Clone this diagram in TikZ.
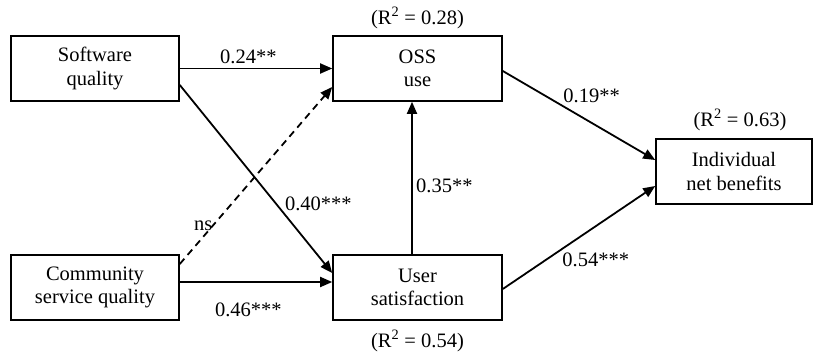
\documentclass[tikz,border=0pt]{standalone}
\usepackage{fontspec}
\setmainfont{Liberation Serif}
\usetikzlibrary{arrows.meta}
\tikzset{
    >={Triangle[length=12pt, width=10pt]},
    construct/.style={draw, line width=1.6pt, minimum height=65pt, align=center, inner sep=2pt,
        font=\fontsize{20.5}{23.5}\selectfont},
    effect/.style={->, line width=1.8pt},
    nseffect/.style={effect, dash pattern=on 7pt off 5pt},
    coef/.style={font=\fontsize{20.5}{23.5}\selectfont},
}

\begin{document}
\begin{tikzpicture}[x=1pt, y=-1pt]
    \useasboundingbox (0,0) rectangle (814,356);
    \node[construct, minimum width=168pt] (sq) at (95,68.5) {Software\\quality};
    \node[construct, minimum width=168pt] (csq) at (95,287.5) {Community\\service quality};
    \node[construct, minimum width=169pt] (oss) at (417.5,68.5) {OSS\\use};
    \node[construct, minimum width=169pt] (us) at (417.5,287.5) {User\\satisfaction};
    \node[construct, minimum width=156pt] (inb) at (734,171.5) {Individual\\net benefits};
    \node[coef] (ossr) at (oss.north) [above=3pt] {(R\textsuperscript{2} = 0.28)};
    \node[coef] (usr) at (us.south) [below=6pt] {(R\textsuperscript{2} = 0.54)};
    \node[coef] (inbr) at (inb.north) [above=4pt, xshift=6pt] {(R\textsuperscript{2} = 0.63)};
    \draw[effect] (sq) -- (oss) node[coef, pos=0.45, above] {0.24**};
    \draw[effect] ([yshift=-16.5pt]sq.east) -- ([yshift=14.5pt]us.west)
        node[coef, pos=0.63, right=5pt] {0.40***};
    \draw[nseffect] ([yshift=23.5pt]csq.east) -- ([yshift=-18.5pt]oss.west)
        node[coef, pos=0.215, left=-4pt] {ns};
    \draw[effect] ([yshift=5.5pt]csq.east) -- ([yshift=5.5pt]us.west)
        node[coef, pos=0.45, below=17pt] {0.46***};
    \draw[effect] ([xshift=-5.5pt]us.north) -- ([xshift=-5.5pt]oss.south)
        node[coef, pos=0.45, right] {0.35**};
    \draw[effect] ([yshift=-2.5pt]oss.east) -- ([yshift=11.5pt]inb.west)
        node[coef, pos=0.37, above right, yshift=-3pt] {0.19**};
    \draw[effect] ([yshift=-1.5pt]us.east) -- ([yshift=-14.5pt]inb.west)
        node[coef, pos=0.39, below right, xshift=-4pt] {0.54***};
\end{tikzpicture}
\end{document}
